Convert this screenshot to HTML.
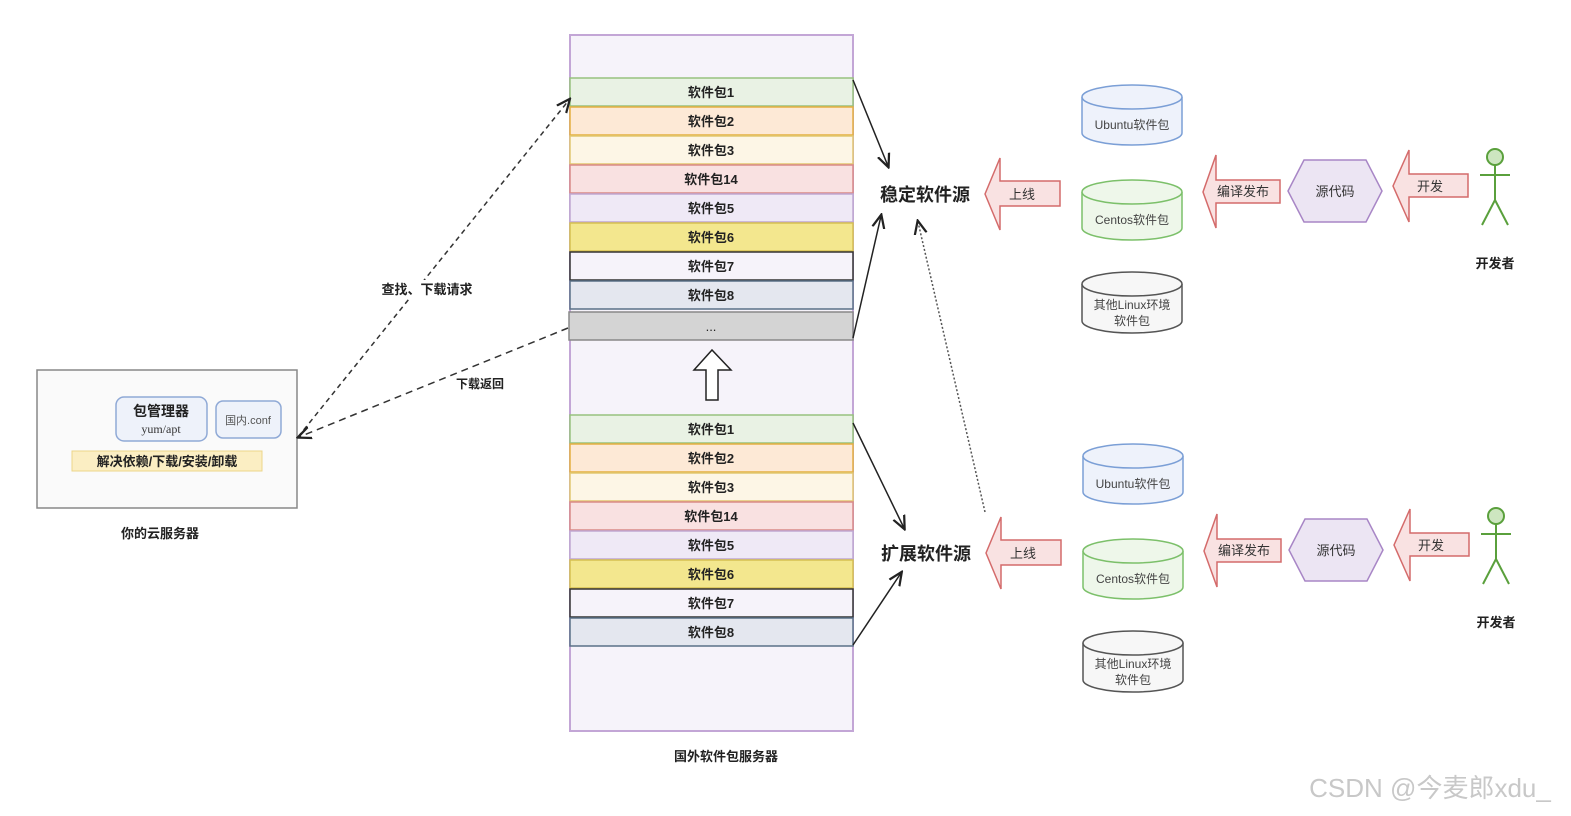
<!DOCTYPE html>
<html><head><meta charset="utf-8"><style>
body{margin:0;background:#fff;}
svg{display:block;font-family:"Liberation Sans","Noto Sans CJK SC",sans-serif;}
.b{font-weight:bold;}
</style></head><body>
<svg width="1571" height="816" viewBox="0 0 1571 816" xmlns="http://www.w3.org/2000/svg">
<defs>
<marker id="ah" markerWidth="10" markerHeight="10" refX="8" refY="5" orient="auto"><path d="M0,1 L9,5 L0,9" fill="none" stroke="#222" stroke-width="1.5"/></marker>
</defs>
<!-- big server -->
<rect x="570" y="35" width="283" height="696" fill="#f6f3fa" stroke="#c3a6d6" stroke-width="2"/>
<g font-size="13" class="b" text-anchor="middle" font-weight="bold" fill="#222">
<rect x="570" y="78" width="283" height="28" fill="#e9f2e4" stroke="#97c27e" stroke-width="1.5"/><text x="711" y="97">软件包1</text>
<rect x="570" y="107" width="283" height="28" fill="#fde9d6" stroke="#e5b040" stroke-width="1.5"/><text x="711" y="126">软件包2</text>
<rect x="570" y="136" width="283" height="28" fill="#fdf6e6" stroke="#e2c770" stroke-width="1.5"/><text x="711" y="155">软件包3</text>
<rect x="570" y="165" width="283" height="28" fill="#f9e1e1" stroke="#d98a88" stroke-width="1.5"/><text x="711" y="184">软件包14</text>
<rect x="570" y="194" width="283" height="28" fill="#efe9f6" stroke="#c0a8d2" stroke-width="1.5"/><text x="711" y="213">软件包5</text>
<rect x="570" y="223" width="283" height="28" fill="#f3e78e" stroke="#d6c050" stroke-width="1.5"/><text x="711" y="242">软件包6</text>
<rect x="570" y="252" width="283" height="28" fill="#f6f3fa" stroke="#333" stroke-width="1.5"/><text x="711" y="271">软件包7</text>
<rect x="570" y="281" width="283" height="28" fill="#e4e7ef" stroke="#5a7187" stroke-width="1.5"/><text x="711" y="300">软件包8</text>
<rect x="569" y="312" width="284" height="28" fill="#d4d4d4" stroke="#888" stroke-width="1.5"/><text x="711" y="331" font-weight="normal">...</text>
<rect x="570" y="415" width="283" height="28" fill="#e9f2e4" stroke="#97c27e" stroke-width="1.5"/><text x="711" y="434">软件包1</text>
<rect x="570" y="444" width="283" height="28" fill="#fde9d6" stroke="#e5b040" stroke-width="1.5"/><text x="711" y="463">软件包2</text>
<rect x="570" y="473" width="283" height="28" fill="#fdf6e6" stroke="#e2c770" stroke-width="1.5"/><text x="711" y="492">软件包3</text>
<rect x="570" y="502" width="283" height="28" fill="#f9e1e1" stroke="#d98a88" stroke-width="1.5"/><text x="711" y="521">软件包14</text>
<rect x="570" y="531" width="283" height="28" fill="#efe9f6" stroke="#c0a8d2" stroke-width="1.5"/><text x="711" y="550">软件包5</text>
<rect x="570" y="560" width="283" height="28" fill="#f3e78e" stroke="#d6c050" stroke-width="1.5"/><text x="711" y="579">软件包6</text>
<rect x="570" y="589" width="283" height="28" fill="#f6f3fa" stroke="#333" stroke-width="1.5"/><text x="711" y="608">软件包7</text>
<rect x="570" y="618" width="283" height="28" fill="#e4e7ef" stroke="#5a7187" stroke-width="1.5"/><text x="711" y="637">软件包8</text>
</g>
<path d="M706,400 L706,370 L694,370 L712,350 L731,370 L718,370 L718,400 Z" fill="#fff" stroke="#222" stroke-width="1.5"/>
<text x="726" y="761" font-size="13" font-weight="bold" text-anchor="middle" fill="#222">国外软件包服务器</text>
<!-- left server -->
<rect x="37" y="370" width="260" height="138" fill="#fafafa" stroke="#888" stroke-width="1.5"/>
<rect x="116" y="397" width="91" height="44" rx="8" fill="#eef2fa" stroke="#8fa9d6" stroke-width="1.5"/>
<text x="161" y="416" font-size="14" font-weight="bold" text-anchor="middle" fill="#222">包管理器</text>
<text x="161" y="433" font-size="12" font-family="Liberation Serif" text-anchor="middle" fill="#333">yum/apt</text>
<rect x="216" y="401" width="65" height="37" rx="7" fill="#eef2fa" stroke="#8fa9d6" stroke-width="1.5"/>
<text x="248" y="424" font-size="11" text-anchor="middle" fill="#555">国内.conf</text>
<rect x="72" y="451" width="190" height="20" fill="#fbeec3" stroke="#ecd58a"/>
<text x="167" y="466" font-size="13" font-weight="bold" text-anchor="middle" fill="#222">解决依赖/下载/安装/卸载</text>
<text x="160" y="538" font-size="13" font-weight="bold" text-anchor="middle" fill="#222">你的云服务器</text>
<!-- dashed -->
<line x1="298" y1="437" x2="569" y2="100" stroke="#333" stroke-width="1.5" stroke-dasharray="5,4" marker-end="url(#ah)"/>
<line x1="568" y1="328" x2="299" y2="437" stroke="#333" stroke-width="1.5" stroke-dasharray="7,5" marker-end="url(#ah)"/>
<rect x="377" y="280" width="100" height="18" fill="#fff"/>
<text x="427" y="294" font-size="13" font-weight="bold" text-anchor="middle" fill="#222">查找、下载请求</text>
<text x="480" y="388" font-size="12" font-weight="bold" text-anchor="middle" fill="#222">下载返回</text>
<!-- solid arrows -->
<g stroke="#222" stroke-width="1.5" fill="none" marker-end="url(#ah)">
<line x1="853" y1="80" x2="888" y2="166"/>
<line x1="853" y1="338" x2="881" y2="216"/>
<line x1="853" y1="423" x2="904" y2="528"/>
<line x1="853" y1="645" x2="901" y2="573"/>
<line x1="985" y1="512" x2="918" y2="222" stroke-dasharray="2,2" stroke="#555"/>
</g>
<text x="925" y="201" font-size="18" font-weight="bold" text-anchor="middle" fill="#222">稳定软件源</text>
<text x="926" y="560" font-size="18" font-weight="bold" text-anchor="middle" fill="#222">扩展软件源</text>
<!-- right groups -->
<g id="grp">
<path d="M985,194 L1000,158 L1000,181 L1060,181 L1060,206 L1000,206 L1000,230 Z" fill="#f9e2e2" stroke="#d46b6b" stroke-width="1.5"/>
<text x="1022" y="199" font-size="13" text-anchor="middle" fill="#333">上线</text>
<path d="M1082,97 L1082,133 A50,12 0 0 0 1182,133 L1182,97" fill="#eef2fb" stroke="#7b9fd6" stroke-width="1.5"/>
<ellipse cx="1132" cy="97" rx="50" ry="12" fill="#eef2fb" stroke="#7b9fd6" stroke-width="1.5"/>
<text x="1132" y="129" font-size="12" text-anchor="middle" fill="#444">Ubuntu软件包</text>
<path d="M1082,192 L1082,228 A50,12 0 0 0 1182,228 L1182,192" fill="#eef7ea" stroke="#7cc06a" stroke-width="1.5"/>
<ellipse cx="1132" cy="192" rx="50" ry="12" fill="#eef7ea" stroke="#7cc06a" stroke-width="1.5"/>
<text x="1132" y="224" font-size="12" text-anchor="middle" fill="#444">Centos软件包</text>
<path d="M1082,284 L1082,321 A50,12 0 0 0 1182,321 L1182,284" fill="#f7f7f7" stroke="#555" stroke-width="1.5"/>
<ellipse cx="1132" cy="284" rx="50" ry="12" fill="#f7f7f7" stroke="#555" stroke-width="1.5"/>
<text x="1132" y="309" font-size="12" text-anchor="middle" fill="#444">其他Linux环境</text>
<text x="1132" y="325" font-size="12" text-anchor="middle" fill="#444">软件包</text>
<path d="M1203,192 L1216,155 L1216,180 L1280,180 L1280,203 L1216,203 L1216,228 Z" fill="#f9e2e2" stroke="#d46b6b" stroke-width="1.5"/>
<text x="1243" y="196" font-size="13" text-anchor="middle" fill="#333">编译发布</text>
<path d="M1288,191 L1304,160 L1366,160 L1382,191 L1366,222 L1304,222 Z" fill="#ece5f3" stroke="#a886c6" stroke-width="1.5"/>
<text x="1335" y="196" font-size="13" text-anchor="middle" fill="#333">源代码</text>
<path d="M1393,186 L1409,150 L1409,174 L1468,174 L1468,197 L1409,197 L1409,222 Z" fill="#f9e2e2" stroke="#d46b6b" stroke-width="1.5"/>
<text x="1430" y="191" font-size="13" text-anchor="middle" fill="#333">开发</text>
<g stroke="#5aa03c" stroke-width="2" fill="none">
<circle cx="1495" cy="157" r="8" fill="#cde6c0"/>
<line x1="1495" y1="165" x2="1495" y2="200"/>
<line x1="1480" y1="175" x2="1510" y2="175"/>
<line x1="1495" y1="200" x2="1482" y2="225"/>
<line x1="1495" y1="200" x2="1508" y2="225"/>
</g>
<text x="1495" y="268" font-size="13" font-weight="bold" text-anchor="middle" fill="#222">开发者</text>
</g>
<use href="#grp" transform="translate(1,359)"/>
<text x="1430" y="797" font-size="26" text-anchor="middle" fill="#c8c8c8">CSDN @今麦郎xdu_</text>
</svg>
</body></html>
